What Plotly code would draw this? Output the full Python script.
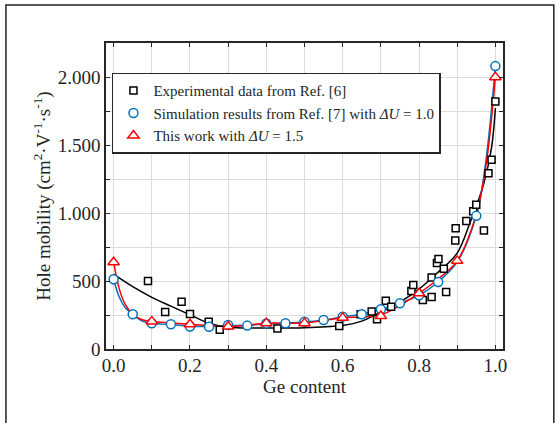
import plotly.graph_objects as go

# ---------------- data ----------------
exp_x = [0.090, 0.135, 0.178, 0.200, 0.249, 0.278, 0.429, 0.591, 0.647, 0.676, 0.690,
         0.713, 0.727, 0.780, 0.785, 0.810, 0.833, 0.833, 0.847, 0.851, 0.865, 0.871,
         0.895, 0.896, 0.924, 0.942, 0.950, 0.970, 0.982, 0.990, 1.000]
exp_y = [500, 272, 348, 258, 201, 142, 150, 169, 255, 275, 218,
         355, 310, 427, 470, 361, 382, 526, 632, 662, 590, 420,
         797, 888, 942, 1012, 1060, 871, 1292, 1391, 1820]

exp_fit_x = [0.0, 0.05, 0.10, 0.15, 0.20, 0.25, 0.30, 0.40, 0.50, 0.60, 0.65, 0.70,
             0.75, 0.80, 0.85, 0.90, 0.935, 0.95, 0.97, 0.99, 1.0]
exp_fit_y = [550, 458, 380, 315, 252, 190, 160, 155, 157, 172, 205, 272,
             345, 440, 565, 705, 940, 1050, 1220, 1480, 1770]

sim_x = [0.0, 0.05, 0.10, 0.15, 0.20, 0.25, 0.30, 0.35, 0.40, 0.45, 0.50, 0.55,
         0.60, 0.65, 0.70, 0.75, 0.80, 0.85, 0.95, 1.0]
sim_y = [513, 255, 189, 182, 166, 164, 177, 172, 187, 189, 201, 213,
         238, 255, 292, 336, 395, 493, 979, 2080]

sim_curve_x = [0.0, 0.015, 0.03, 0.05, 0.075, 0.10, 0.15, 0.20, 0.25, 0.30, 0.35, 0.40,
               0.45, 0.50, 0.55, 0.60, 0.65, 0.70, 0.75, 0.80, 0.85, 0.90, 0.95, 0.975, 1.0]
sim_curve_y = [513, 380, 305, 255, 205, 189, 180, 168, 165, 172, 174, 185,
               190, 200, 212, 236, 256, 290, 336, 395, 493, 640, 979, 1380, 2080]

tw_x = [0.0, 0.1, 0.2, 0.3, 0.4, 0.5, 0.6, 0.7, 0.8, 0.9, 1.0]
tw_y = [638, 203, 182, 166, 190, 190, 229, 242, 410, 648, 1999]

tw_curve_x = [0.0, 0.015, 0.03, 0.05, 0.075, 0.10, 0.15, 0.20, 0.25, 0.30, 0.35, 0.40,
              0.50, 0.60, 0.65, 0.70, 0.75, 0.80, 0.85, 0.90, 0.95, 0.975, 1.0]
tw_curve_y = [638, 440, 330, 255, 215, 203, 192, 182, 172, 166, 175, 190,
              192, 229, 236, 250, 320, 410, 515, 648, 990, 1340, 1999]

y_tick_vals = [0, 500, 1000, 1500, 2000]
y_tick_text = ["0", "500", "1.000", "1.500", "2.000"]
x_tick_vals = [0.0, 0.2, 0.4, 0.6, 0.8, 1.0]
x_tick_text = ["0.0", "0.2", "0.4", "0.6", "0.8", "1.0"]

names = ["Experimental data from Ref. [6]",
         "Simulation results from Ref. [7] with <i>ΔU</i> = 1.0",
         "This work with <i>ΔU</i> = 1.5"]

BLUE = "#0072BD"
RED = "#FF0000"
BLACK = "#000000"
FONT = "Liberation Serif"
AX = "#262626"

fig = go.Figure()

# lines (behind markers)
fig.add_trace(go.Scatter(x=exp_fit_x, y=exp_fit_y, mode="lines", line=dict(color=BLACK, width=1.5, shape="spline"),
                         showlegend=False, hoverinfo="skip"))
fig.add_trace(go.Scatter(x=sim_curve_x, y=sim_curve_y, mode="lines", line=dict(color=BLUE, width=1.5, shape="spline"),
                         showlegend=False, hoverinfo="skip"))
fig.add_trace(go.Scatter(x=tw_curve_x, y=tw_curve_y, mode="lines", line=dict(color=RED, width=1.5, shape="spline"),
                         showlegend=False, hoverinfo="skip"))

# markers
fig.add_trace(go.Scatter(x=exp_x, y=exp_y, mode="markers", name=names[0],
                         marker=dict(symbol="square", size=7, color="white", line=dict(color=BLACK, width=1.5))))
fig.add_trace(go.Scatter(x=sim_x, y=sim_y, mode="markers", name=names[1],
                         marker=dict(symbol="circle", size=9, color="white", line=dict(color=BLUE, width=1.5))))
fig.add_trace(go.Scatter(x=tw_x, y=tw_y, mode="markers", name=names[2],
                         marker=dict(symbol="triangle-up", size=10, color="white", line=dict(color=RED, width=1.5))))

axis_common = dict(
    showline=True, linecolor=AX, linewidth=1.5, mirror="ticks",
    ticks="inside", ticklen=4, tickwidth=1, tickcolor=AX,
    showgrid=True, gridcolor="#dcdcdc", gridwidth=1, zeroline=False,
    automargin=False,
    tickfont=dict(family=FONT, size=19, color=AX),
)

x_minor = [i / 10 for i in range(11)]
y_minor = [i * 250 for i in range(10)]

fig.update_xaxes(range=[-0.02, 1.02], tickmode="array",
                 tickvals=x_minor,
                 ticktext=[x_tick_text[x_tick_vals.index(v)] if v in x_tick_vals else "" for v in x_minor],
                 ticklabelstandoff=-2,
                 title=dict(text="Ge content", font=dict(family=FONT, size=19, color=AX), standoff=0),
                 **axis_common)
fig.update_yaxes(range=[0, 2250], tickmode="array",
                 tickvals=y_minor,
                 ticktext=[y_tick_text[y_tick_vals.index(v)] if v in y_tick_vals else "" for v in y_minor],
                 title=dict(text="Hole mobility (cm<sup>2</sup>·V<sup>-1</sup>·s<sup>-1</sup>)",
                            font=dict(family=FONT, size=19, color=AX), standoff=2),
                 **axis_common)

fig.update_layout(
    width=560, height=423,
    margin=dict(l=106, r=57, t=43, b=74),
    paper_bgcolor="white", plot_bgcolor="white",
    font=dict(family=FONT, color=AX),
    legend=dict(x=0.015, y=0.903, xanchor="left", yanchor="top",
                bgcolor="white", bordercolor=AX, borderwidth=1.5,
                font=dict(family=FONT, size=15, color=AX),
                itemwidth=30, tracegroupgap=0),
    shapes=[dict(type="rect", xref="paper", yref="paper",
                 x0=-0.252, x1=1.128, y0=-0.27, y1=1.124,
                 line=dict(color="#222222", width=1.5), fillcolor="rgba(0,0,0,0)", layer="below")],
)

fig.write_html("out.html", config={"displayModeBar": False},
               post_script="document.body.style.margin='0';")
